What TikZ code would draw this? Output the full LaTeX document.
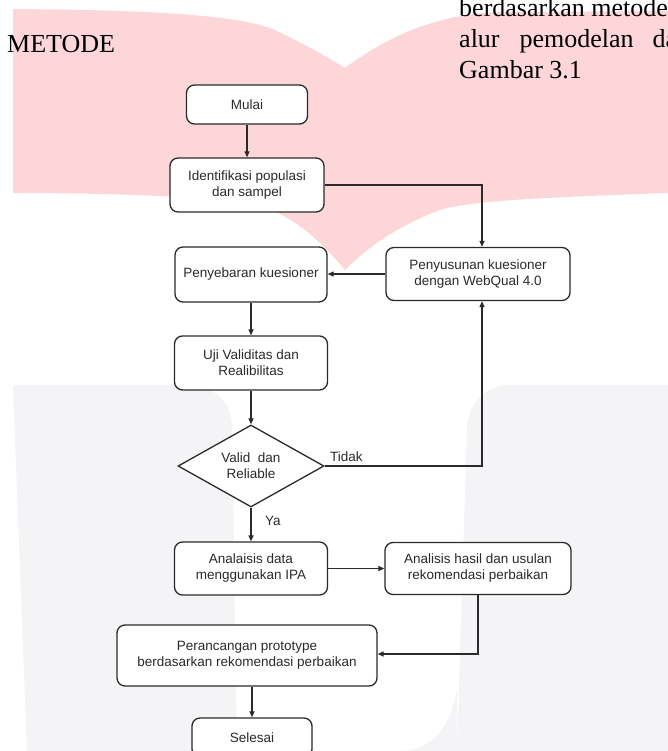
\documentclass[tikz,border=0pt]{standalone}
\usepackage{fontspec}
\setmainfont{Liberation Serif}
\newfontfamily\flowfont{Liberation Sans}
\usetikzlibrary{arrows.meta,shapes.geometric}
\definecolor{pinkwm}{HTML}{FDD6DA}
\definecolor{greywm}{HTML}{F4F4F6}
\definecolor{ink}{HTML}{2A2A2A}
\tikzset{
  flowbox/.style={draw=ink, line width=1.3pt, rounded corners=8pt, fill=white,
    align=center, inner sep=0pt, text=ink,
    font=\flowfont\fontsize{13.5}{16}\selectfont},
  decision/.style={diamond, aspect=2, draw=ink, line width=1.3pt, fill=white,
    align=center, inner sep=0pt, text=ink, minimum width=146pt, minimum height=82pt,
    font=\flowfont\fontsize{13.5}{16}\selectfont},
  arr/.style={draw=ink, line width=1.2pt, -{Triangle[length=6pt,width=5pt]}},
  lbl/.style={inner sep=0pt, anchor=base west, text=ink,
    font=\flowfont\fontsize{13.5}{16}\selectfont},
  pagetext/.style={inner sep=0pt, anchor=base west, text=black,
    font=\fontsize{26}{30}\selectfont}
}
\begin{document}
\begin{tikzpicture}[x=1pt,y=-1pt]
\useasboundingbox (0,0) rectangle (668,751);
\fill[white] (0,0) rectangle (668,751);
% watermark shapes
\fill[pinkwm] (13,9) .. controls (150,10) and (240,15) .. (275,30)
  .. controls (300,42) and (330,58) .. (345,68)
  .. controls (380,42) and (430,14) .. (500,12) -- (668,11) -- (668,193)
  .. controls (560,197) and (470,200) .. (440,210)
  .. controls (400,225) and (370,245) .. (345,270)
  .. controls (320,240) and (290,212) .. (250,203)
  .. controls (200,196) and (100,193) .. (13,193) -- cycle;
\fill[greywm] (13,385) -- (180,385) .. controls (215,385) and (232,400) .. (232,430)
  -- (237,751) -- (27,751) -- cycle;
\fill[greywm] (668,385) -- (510,385) .. controls (485,385) and (467,405) .. (467,430)
  -- (457,751) -- (668,751) -- cycle;
\fill[greywm] (457,690) .. controls (450,730) and (430,751) .. (400,751) -- (457,751) -- cycle;
% page text
\node[pagetext] (metode) at (7,53) {METODE};
\node[pagetext] (line1) at (459,17) {berdasarkan metode};
\node[pagetext] (line2) at (459,48) {alur\hspace{20pt}pemodelan\hspace{19pt}da};
\node[pagetext] (line3) at (459,79) {Gambar 3.1};
% flowchart nodes
\node[flowbox, minimum width=121pt, minimum height=39pt] (mulai) at (247,104.5) {Mulai};
\node[flowbox, minimum width=154pt, minimum height=54pt] (ident) at (247,185) {Identifikasi populasi\\dan sampel};
\node[flowbox, minimum width=152pt, minimum height=55pt] (sebar) at (251,274.5) {Penyebaran kuesioner};
\node[flowbox, minimum width=184pt, minimum height=53pt] (susun) at (478,274) {Penyusunan kuesioner\\dengan WebQual 4.0};
\node[flowbox, minimum width=153pt, minimum height=54pt] (uji) at (251,363) {Uji Validitas dan\\ Realibilitas};
\node[decision] (dec) at (251,466) {Valid~ dan\\Reliable};
\node[flowbox, minimum width=153pt, minimum height=53pt] (ipa) at (251,568.5) {Analaisis data\\menggunakan IPA};
\node[flowbox, minimum width=186pt, minimum height=52pt] (hasil) at (478,568.5) {Analisis hasil dan usulan\\rekomendasi perbaikan};
\node[flowbox, minimum width=260pt, minimum height=61pt] (rancang) at (247,655.5) {Perancangan prototype\\berdasarkan rekomendasi perbaikan};
\node[flowbox, minimum width=120pt, minimum height=39pt] (selesai) at (252,737.5) {Selesai};
% connectors
\coordinate (c1) at (482,185);
\coordinate (c2) at (482,466);
\coordinate (c3) at (478,654);
\draw[arr] (mulai) -- (ident);
\draw[arr] (ident.east |- c1) -- (c1) -- (c1 |- susun.north);
\draw[arr] (susun.west) -- (susun.west -| sebar.east);
\draw[arr] (sebar) -- (uji);
\draw[arr] (uji) -- (dec);
\draw[arr] (dec.east) -- (c2) -- (c2 |- susun.south);
\node[lbl] (tidak) at (330,461) {Tidak};
\draw[arr] (dec.south) -- (ipa.north);
\node[lbl] (ya) at (265,525) {Ya};
\draw[arr] (ipa.east) -- (hasil.west);
\draw[arr] (hasil.south) -- (c3) -- (c3 -| rancang.east);
\draw[arr] (selesai.north |- rancang.south) -- (selesai.north);
\end{tikzpicture}
\end{document}
